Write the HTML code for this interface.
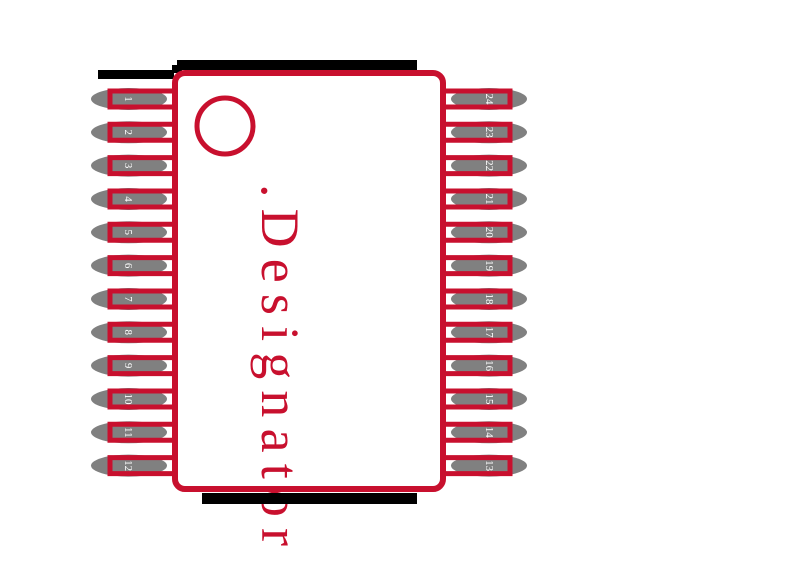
<!DOCTYPE html><html><head><style>body{margin:0;background:#fff}</style></head><body>
<svg width="800" height="565" xmlns="http://www.w3.org/2000/svg">
<text transform="translate(262,184) rotate(90)" fill="#c8102e" font-family="Liberation Serif, serif" font-size="54" textLength="362" lengthAdjust="spacing">.Designator</text>
<rect x="98" y="70" width="76" height="9" fill="#000"/>
<rect x="172" y="65" width="10" height="8" fill="#000"/>
<rect x="177" y="60" width="240" height="10" fill="#000"/>
<rect x="202" y="493" width="215" height="11" fill="#000"/>
<g fill="#808080">
<ellipse cx="129" cy="99" rx="38" ry="11"/><ellipse cx="129" cy="132.3" rx="38" ry="11"/><ellipse cx="129" cy="165.6" rx="38" ry="11"/><ellipse cx="129" cy="199" rx="38" ry="11"/><ellipse cx="129" cy="232.3" rx="38" ry="11"/><ellipse cx="129" cy="265.6" rx="38" ry="11"/><ellipse cx="129" cy="299" rx="38" ry="11"/><ellipse cx="129" cy="332.3" rx="38" ry="11"/><ellipse cx="129" cy="365.6" rx="38" ry="11"/><ellipse cx="129" cy="399" rx="38" ry="11"/><ellipse cx="129" cy="432.3" rx="38" ry="11"/><ellipse cx="129" cy="465.6" rx="38" ry="11"/>
<ellipse cx="489" cy="99" rx="38" ry="11"/><ellipse cx="489" cy="132.3" rx="38" ry="11"/><ellipse cx="489" cy="165.6" rx="38" ry="11"/><ellipse cx="489" cy="199" rx="38" ry="11"/><ellipse cx="489" cy="232.3" rx="38" ry="11"/><ellipse cx="489" cy="265.6" rx="38" ry="11"/><ellipse cx="489" cy="299" rx="38" ry="11"/><ellipse cx="489" cy="332.3" rx="38" ry="11"/><ellipse cx="489" cy="365.6" rx="38" ry="11"/><ellipse cx="489" cy="399" rx="38" ry="11"/><ellipse cx="489" cy="432.3" rx="38" ry="11"/><ellipse cx="489" cy="465.6" rx="38" ry="11"/>
</g>
<g fill="none" stroke="#c8102e" stroke-width="5">
<path d="M175 91H110V107H175M175 124.3H110V140.3H175M175 157.6H110V173.6H175M175 191H110V207H175M175 224.3H110V240.3H175M175 257.6H110V273.6H175M175 291H110V307H175M175 324.3H110V340.3H175M175 357.6H110V373.6H175M175 391H110V407H175M175 424.3H110V440.3H175M175 457.6H110V473.6H175"/>
<path d="M443 91H510V107H443M443 124.3H510V140.3H443M443 157.6H510V173.6H443M443 191H510V207H443M443 224.3H510V240.3H443M443 257.6H510V273.6H443M443 291H510V307H443M443 324.3H510V340.3H443M443 357.6H510V373.6H443M443 391H510V407H443M443 424.3H510V440.3H443M443 457.6H510V473.6H443"/>
<rect x="175" y="73" width="268" height="416" rx="10" stroke-width="6"/>
<circle cx="225" cy="126" r="28"/>
</g>
<g fill="#fff" font-family="Liberation Serif, serif" font-size="11" text-anchor="middle">
<text transform="translate(125,99) rotate(90)">1</text><text transform="translate(125,132.3) rotate(90)">2</text><text transform="translate(125,165.6) rotate(90)">3</text><text transform="translate(125,199) rotate(90)">4</text><text transform="translate(125,232.3) rotate(90)">5</text><text transform="translate(125,265.6) rotate(90)">6</text><text transform="translate(125,299) rotate(90)">7</text><text transform="translate(125,332.3) rotate(90)">8</text><text transform="translate(125,365.6) rotate(90)">9</text><text transform="translate(125,399) rotate(90)">10</text><text transform="translate(125,432.3) rotate(90)">11</text><text transform="translate(125,465.6) rotate(90)">12</text>
<text transform="translate(486,99) rotate(90)">24</text><text transform="translate(486,132.3) rotate(90)">23</text><text transform="translate(486,165.6) rotate(90)">22</text><text transform="translate(486,199) rotate(90)">21</text><text transform="translate(486,232.3) rotate(90)">20</text><text transform="translate(486,265.6) rotate(90)">19</text><text transform="translate(486,299) rotate(90)">18</text><text transform="translate(486,332.3) rotate(90)">17</text><text transform="translate(486,365.6) rotate(90)">16</text><text transform="translate(486,399) rotate(90)">15</text><text transform="translate(486,432.3) rotate(90)">14</text><text transform="translate(486,465.6) rotate(90)">13</text>
</g>
</svg>
</body></html>
